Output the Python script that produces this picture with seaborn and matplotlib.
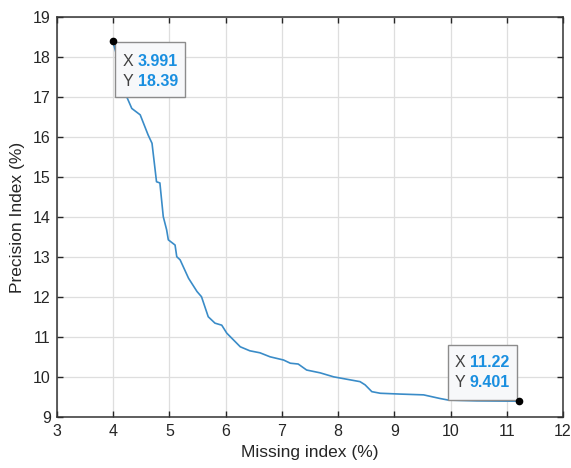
import matplotlib
matplotlib.use("Agg")
import matplotlib.pyplot as plt
import seaborn as sns
import pandas as pd
from matplotlib.patches import Rectangle
from matplotlib.transforms import Affine2D

# ---- data ----
missing = [3.991, 4.08, 4.16, 4.24, 4.33, 4.48, 4.62, 4.69, 4.77, 4.83, 4.89, 4.95,
           4.98, 5.10, 5.13, 5.19, 5.34, 5.49, 5.57, 5.69, 5.81, 5.93, 6.02, 6.14,
           6.26, 6.43, 6.61, 6.79, 7.03, 7.15, 7.29, 7.44, 7.68, 7.92, 8.39, 8.48,
           8.60, 8.75, 9.10, 9.52, 9.81, 9.96, 10.20, 10.47, 11.22]
precision = [18.39, 17.95, 17.45, 17.00, 16.71, 16.55, 16.05, 15.84, 14.88, 14.85, 14.01, 13.68,
             13.43, 13.30, 13.01, 12.93, 12.47, 12.14, 12.01, 11.51, 11.35, 11.30, 11.10, 10.93,
             10.76, 10.66, 10.61, 10.51, 10.43, 10.35, 10.33, 10.18, 10.11, 10.01, 9.89, 9.81,
             9.64, 9.60, 9.58, 9.56, 9.47, 9.43, 9.42, 9.41, 9.401]
x_ticks = [3, 4, 5, 6, 7, 8, 9, 10, 11, 12]
y_ticks = [9, 10, 11, 12, 13, 14, 15, 16, 17, 18, 19]
tips = [(3.991, 18.39, "3.991", "18.39"), (11.22, 9.401, "11.22", "9.401")]

sns.set_theme(style="white")
plt.rcParams['font.family'] = ['Liberation Sans', 'DejaVu Sans']

fig = plt.figure(figsize=(5.71, 4.68), dpi=100)
ax = fig.add_axes([57/571, 1 - 417.3/468, (563-57)/571, (417.3-16.7)/468])

df = pd.DataFrame({"Missing index (%)": missing, "Precision Index (%)": precision})
sns.lineplot(data=df, x="Missing index (%)", y="Precision Index (%)", ax=ax,
             color="#3a8cc8", linewidth=1.2, sort=False, estimator=None, zorder=3)

ax.set_xlim(3, 12)
ax.set_ylim(9, 19)
ax.set_xticks(x_ticks)
ax.set_yticks(y_ticks)
ax.grid(True, color="#dedede", linewidth=0.9)
ax.set_axisbelow(True)
ax.tick_params(direction="in", length=4, width=1, colors="#262626", labelsize=11.5,
               top=True, right=True, bottom=True, left=True, pad=4.5)
for s in ax.spines.values():
    s.set_color("#333333")
    s.set_linewidth(1.1)
ax.set_xlabel("Missing index (%)", fontsize=12.5, color="#262626", labelpad=5)
ax.set_ylabel("Precision Index (%)", fontsize=12.5, color="#262626", labelpad=6)

# data markers
for tx, ty, _, _ in tips:
    ax.plot([tx], [ty], marker="o", markersize=4.5, color="black", zorder=6, clip_on=False)

# data tips (offsets in pixels relative to the data point)
layouts = [
    # box dx, dy(bottom), w, h, label dx, value dx, row1 dy, row2 dy
    (2.3, -56.2, 70, 55, 10.3, 25.3, -20.2, -40.2),
    (-71, 1.7, 69, 55, -64.3, -49.3, 38.4, 18.4),
]
for (tx, ty, xs, ys), (bx, by, bw, bh, lx, vx, r1, r2) in zip(tips, layouts):
    px, py = ax.transData.transform((tx, ty))
    tr = Affine2D().translate(px, py)
    ax.add_patch(Rectangle((bx, by), bw, bh, transform=tr, facecolor="#f7f8fa",
                           edgecolor="#8c8c8c", linewidth=1.0, zorder=5, clip_on=False))
    for dy, lab, val in ((r1, "X", xs), (r2, "Y", ys)):
        ax.text(lx, dy, lab, transform=tr, fontsize=11.5, color="#404040",
                va="center", ha="left", zorder=7)
        ax.text(vx, dy, val, transform=tr, fontsize=11.5, color="#1a8fe0",
                fontweight="bold", va="center", ha="left", zorder=7)

fig.savefig("out.png", dpi=100)
